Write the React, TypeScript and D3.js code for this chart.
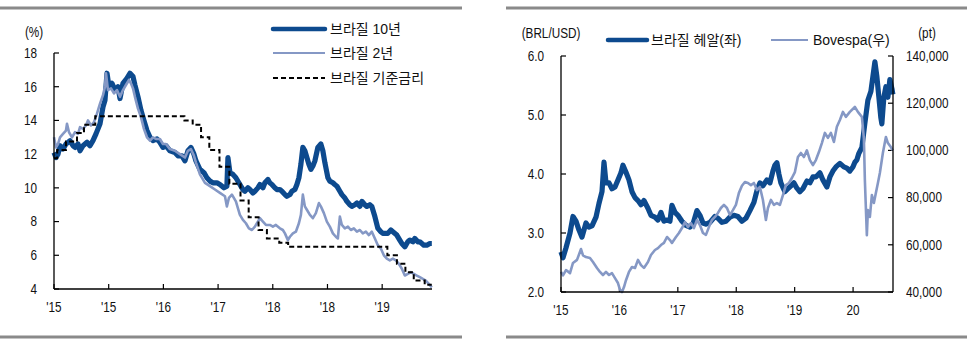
import React from "react";
import * as d3 from "d3";

// ---------- Left chart data (x = months since 2015-01-05) ----------
const leftTickMonths = [0, 9, 18, 27, 36, 45, 54];
const leftTickLabels = ["'15", "'15", "'16", "'17", "'18", "'18", "'19"];
const leftYTicks = [4, 6, 8, 10, 12, 14, 16, 18];

const bond10y: [number, number][] = [
  [0, 12.1], [0.33, 11.8], [0.66, 12.0], [0.99, 12.5], [1.48, 12.3], [1.97, 12.6], [2.63, 12.8], [3.13, 12.5],
  [3.45, 12.4], [3.95, 12.6], [4.28, 12.2], [4.77, 12.5], [5.43, 12.7], [5.92, 12.5], [6.41, 12.8], [6.91, 13.2],
  [7.57, 13.8], [8.06, 14.8], [8.39, 15.2], [8.72, 16.8], [9.05, 16.0], [9.54, 16.2], [10.03, 15.8], [10.53, 16.0],
  [10.86, 15.3], [11.35, 16.2], [12.0, 16.5], [12.5, 16.8], [13.0, 16.6], [13.32, 16.1], [13.82, 15.4], [14.31, 14.6],
  [14.8, 14.0], [15.3, 13.4], [15.8, 13.0], [16.28, 12.8], [16.94, 12.9], [17.43, 12.7], [17.93, 12.4], [18.42, 12.5],
  [19.08, 12.2], [19.9, 12.1], [20.4, 11.9], [21.05, 11.9], [21.55, 11.6], [22.04, 12.2], [22.53, 12.4], [23.03, 12.0],
  [23.36, 11.6], [24.01, 11.1], [24.67, 10.9], [25.16, 10.6], [25.66, 10.4], [26.15, 10.3], [26.81, 10.3], [27.3, 10.2],
  [27.96, 10.0], [28.45, 10.1], [28.62, 11.8], [28.95, 10.9], [29.44, 10.8], [29.93, 10.6], [30.59, 10.2], [31.09, 9.9],
  [31.41, 9.8], [31.91, 10.0], [32.24, 9.9], [32.73, 9.7], [33.06, 9.8], [33.55, 10.0], [33.88, 10.2], [34.38, 10.0],
  [34.7, 10.3], [35.2, 10.5], [35.5, 10.3], [35.86, 10.2], [36.35, 10.0], [36.68, 9.9], [37.17, 9.9], [37.5, 9.8],
  [38.0, 9.6], [38.32, 9.5], [38.82, 9.6], [39.14, 9.8], [39.64, 9.9], [39.97, 10.2], [40.3, 10.6], [40.63, 11.4],
  [40.95, 12.4], [41.28, 12.2], [41.61, 11.8], [41.94, 11.4], [42.27, 11.1], [42.6, 11.3], [42.93, 11.6], [43.42, 12.4],
  [43.91, 12.6], [44.24, 12.2], [44.57, 11.5], [45.07, 10.6], [45.39, 10.4], [45.89, 10.3], [46.2, 10.2], [46.55, 10.1],
  [47.04, 9.8], [47.37, 9.6], [47.86, 9.4], [48.19, 9.2], [48.68, 9.0], [49.0, 8.9], [49.5, 9.0], [49.84, 9.1],
  [50.33, 8.9], [50.66, 9.2], [51.15, 9.0], [51.48, 8.9], [51.97, 9.0], [52.3, 8.9], [52.8, 8.3], [53.29, 7.6],
  [53.78, 7.4], [54.11, 7.3], [54.6, 7.3], [54.93, 7.3], [55.43, 7.5], [55.76, 7.4], [56.41, 7.2], [56.9, 6.9],
  [57.24, 6.7], [57.73, 6.5], [58.22, 6.8], [58.55, 6.9], [59.05, 6.8], [59.38, 7.0], [59.87, 6.8], [60.2, 6.8],
  [60.53, 6.7], [60.86, 6.6], [61.35, 6.6], [61.84, 6.7], [62.17, 6.7],
];

const bond2y: [number, number][] = [
  [0, 13.0], [0.33, 12.4], [0.66, 12.6], [0.99, 13.0], [1.48, 13.2], [1.97, 13.4], [2.14, 13.8], [2.47, 13.3],
  [2.96, 13.0], [3.45, 13.3], [3.95, 13.2], [4.28, 13.6], [4.77, 13.5], [5.26, 13.7], [5.59, 14.0], [6.09, 13.7],
  [6.58, 13.9], [7.07, 14.4], [7.57, 15.0], [8.06, 15.5], [8.39, 16.0], [8.55, 16.8], [8.88, 15.8], [9.38, 15.9],
  [9.87, 15.6], [10.36, 15.8], [10.86, 15.4], [11.35, 15.8], [11.84, 16.1], [12.34, 16.4], [12.66, 16.2], [13.0, 15.9],
  [13.32, 15.4], [13.82, 14.7], [14.31, 14.2], [14.8, 13.5], [15.3, 13.0], [15.8, 12.8], [16.28, 13.0], [16.78, 12.9],
  [17.43, 12.9], [17.93, 12.6], [18.42, 12.6], [19.08, 12.3], [19.9, 12.2], [20.72, 12.0], [21.55, 11.8], [22.04, 12.2],
  [22.53, 12.3], [23.03, 11.9], [23.36, 11.5], [24.01, 10.8], [24.84, 10.3], [25.66, 10.1], [26.48, 9.9], [27.3, 9.7],
  [28.13, 9.5], [28.45, 8.9], [28.78, 9.4], [29.28, 9.6], [29.93, 9.2], [30.59, 8.4], [31.09, 8.1], [31.58, 7.9],
  [32.07, 7.6], [32.57, 7.5], [33.06, 7.7], [33.55, 8.0], [33.88, 8.2], [34.38, 8.0], [34.87, 7.8], [35.53, 7.8],
  [36.02, 7.7], [36.51, 7.8], [37.17, 7.6], [37.66, 7.5], [38.0, 7.3], [38.49, 6.9], [38.82, 7.1], [39.31, 7.3],
  [39.8, 7.4], [40.3, 7.9], [40.63, 8.4], [40.95, 9.6], [41.28, 8.9], [41.61, 8.7], [42.11, 8.4], [42.6, 8.2],
  [43.09, 8.5], [43.59, 9.1], [43.91, 8.9], [44.41, 8.5], [44.9, 8.0], [45.39, 7.7], [45.89, 7.3], [46.38, 7.1],
  [46.71, 7.0], [47.04, 8.3], [47.37, 7.8], [47.86, 7.6], [48.36, 7.7], [48.85, 7.5], [49.34, 7.6], [49.84, 7.4],
  [50.33, 7.5], [50.82, 7.3], [51.32, 7.4], [51.81, 7.2], [52.3, 7.4], [52.8, 7.0], [53.29, 6.6], [53.78, 6.4],
  [54.28, 6.0], [54.77, 5.8], [55.26, 5.7], [55.76, 5.8], [56.25, 5.7], [56.74, 5.5], [57.24, 5.2], [57.73, 4.8],
  [58.22, 4.9], [58.72, 5.0], [59.21, 4.9], [59.7, 4.8], [60.2, 4.7], [60.69, 4.6], [61.18, 4.5], [61.68, 4.3],
  [62.17, 4.1],
];

const selicDates = [
  "2015-01-05", "2015-01-21", "2015-03-04", "2015-04-29", "2015-06-03", "2015-07-29", "2016-10-19", "2016-11-30",
  "2017-01-11", "2017-02-22", "2017-04-12", "2017-05-31", "2017-07-26", "2017-09-06", "2017-10-25", "2017-12-06",
  "2018-02-07", "2018-03-21", "2019-07-31", "2019-09-18", "2019-10-30", "2019-12-11", "2020-02-05", "2020-03-10",
];
const selicRates = [
  11.75, 12.25, 12.75, 13.25, 13.75, 14.25, 14.0, 13.75, 13.0, 12.25, 11.25, 10.25, 9.25, 8.25, 7.5, 7.0, 6.75, 6.5,
  6.0, 5.5, 5.0, 4.5, 4.25, 4.25,
];

// ---------- Right chart data (x = months since 2015-01-01) ----------
const rightTickMonths = [0, 12, 24, 36, 48, 60];
const rightTickLabels = ["'15", "'16", "'17", "'18", "'19", "20"];
const brlTicks = [2, 3, 4, 5, 6];
const bovTicks = [40000, 60000, 80000, 100000, 120000, 140000];

const brlUsd: [number, number][] = [
  [0, 2.68], [0.41, 2.58], [1.03, 2.75], [1.85, 3.0], [2.46, 3.28], [3.08, 3.2], [3.7, 3.05], [4.31, 2.93],
  [5.13, 3.17], [5.75, 3.1], [6.37, 3.12], [7.19, 3.27], [7.8, 3.5], [8.42, 3.7], [8.83, 4.2], [9.24, 3.85],
  [9.86, 3.85], [10.47, 3.75], [11.09, 3.78], [11.7, 3.9], [12.32, 4.02], [12.73, 4.15], [13.35, 4.03], [13.96, 3.9],
  [14.58, 3.7], [15.2, 3.6], [15.81, 3.55], [16.43, 3.48], [17.04, 3.55], [17.86, 3.42], [18.48, 3.3], [19.3, 3.27],
  [19.92, 3.22], [20.53, 3.35], [21.15, 3.2], [21.77, 3.22], [22.38, 3.2], [22.79, 3.47], [23.41, 3.35], [24.02, 3.3],
  [24.85, 3.2], [25.67, 3.13], [26.49, 3.1], [27.1, 3.15], [27.93, 3.38], [28.54, 3.3], [29.16, 3.17], [29.77, 3.15],
  [30.6, 3.18], [31.62, 3.28], [32.24, 3.25], [33.06, 3.18], [33.88, 3.2], [34.7, 3.27], [35.52, 3.3], [36.34, 3.28],
  [37.17, 3.2], [37.99, 3.25], [38.81, 3.38], [39.63, 3.52], [40.25, 3.72], [40.86, 3.85], [41.48, 3.8], [42.3, 3.9],
  [42.92, 3.85], [43.53, 4.05], [43.94, 4.15], [44.35, 4.19], [44.76, 4.0], [45.17, 3.85], [45.99, 3.7], [46.61, 3.75],
  [47.23, 3.8], [47.84, 3.85], [48.46, 3.76], [49.08, 3.7], [49.69, 3.75], [50.51, 3.88], [51.13, 3.85], [51.75, 3.95],
  [52.36, 3.95], [53.18, 4.02], [53.8, 3.9], [54.62, 3.78], [55.24, 3.95], [55.85, 4.05], [56.47, 4.12], [57.29, 4.18],
  [58.11, 4.12], [58.73, 4.1], [59.34, 4.05], [59.96, 4.12], [60.37, 4.2], [60.78, 4.24], [61.19, 4.35], [61.81, 4.45],
  [62.42, 4.86], [63.04, 5.25], [63.66, 5.4], [64.07, 5.65], [64.48, 5.9], [64.89, 5.65], [65.3, 5.3], [65.71, 4.95],
  [65.91, 4.85], [66.32, 5.3], [66.74, 5.48], [67.15, 5.3], [67.56, 5.6], [67.97, 5.45], [68.17, 5.35],
];

const bovespa: [number, number][] = [
  [0, 48500], [0.41, 47000], [1.03, 49300], [1.85, 48000], [2.46, 52300], [3.29, 53600], [4.11, 58200], [4.52, 55500],
  [5.13, 54800], [5.95, 54400], [6.57, 52700], [7.39, 50200], [8.01, 48500], [8.62, 47200], [9.24, 48500], [9.86, 47200],
  [10.47, 48000], [11.09, 45900], [11.7, 43800], [12.11, 41000], [12.53, 40000], [12.94, 42100], [13.35, 45000],
  [13.96, 48500], [14.58, 50600], [15.2, 50200], [15.81, 53600], [16.43, 51400], [17.04, 50200], [17.86, 52700],
  [18.48, 55700], [19.3, 57800], [19.92, 58600], [20.53, 59900], [21.15, 60800], [21.77, 63300], [22.38, 62000],
  [22.79, 60800], [23.61, 63300], [24.23, 65000], [24.85, 67100], [25.46, 69600], [26.08, 67500], [26.69, 69200],
  [27.31, 67100], [27.93, 70500], [28.54, 68400], [29.16, 65000], [29.77, 64200], [30.39, 67500], [31.01, 70500],
  [31.62, 71800], [32.24, 73500], [32.85, 75600], [33.47, 76900], [34.09, 75600], [34.7, 72600], [35.32, 74700],
  [35.93, 76900], [36.55, 82000], [37.17, 85000], [37.78, 86600], [38.4, 86200], [39.01, 85300], [39.63, 86200],
  [40.25, 83200], [40.86, 84500], [41.48, 79000], [42.09, 70500], [42.51, 75600], [43.12, 79000], [43.74, 76900],
  [44.35, 77700], [44.97, 76900], [45.59, 81100], [46.2, 85300], [46.82, 86200], [47.43, 88300], [48.05, 90800],
  [48.67, 97200], [49.28, 98900], [49.9, 97200], [50.51, 100000], [51.13, 95900], [51.75, 93800], [52.36, 95900],
  [52.98, 99300], [53.59, 103100], [54.21, 107400], [54.83, 105300], [55.44, 107400], [56.06, 103600], [56.67, 110000],
  [57.29, 112900], [57.91, 116300], [58.52, 114200], [59.34, 116300], [60.37, 118400], [60.99, 116300], [61.81, 114200],
  [62.22, 105000], [62.42, 87500], [62.83, 64100], [63.04, 74700], [63.45, 71800], [63.86, 81100], [64.27, 77700],
  [64.68, 81900], [65.1, 86200], [65.5, 90400], [66.12, 98900], [66.74, 105700], [67.15, 103100], [67.76, 101400],
  [68.17, 100000],
];

// ---------- styling ----------
const DARK = "#0d4a8e";
const LIGHT = "#8598c5";
const RULE = "#8a8a8a";
const FONT = "'Liberation Sans', Arial, 'Noto Sans CJK KR', sans-serif";

function monthsSince(d: string, y0: number, m0: number, day0: number) {
  const [y, m, dd] = d.split("-").map(Number);
  return (y - y0) * 12 + (m - m0) + (dd - day0) / 30.4;
}

function T(props: { x: number; y: number; anchor?: string; size?: number; sx?: number; children: React.ReactNode }) {
  const { x, y, anchor = "middle", size = 14, sx = 0.84, children } = props;
  return (
    <text
      transform={`translate(${x},${y}) scale(${sx},1)`}
      textAnchor={anchor as any}
      dominantBaseline="central"
      fontSize={size}
      fontFamily={FONT}
      fill="#111"
    >
      {children}
    </text>
  );
}

export default function App() {
  // Left chart scales
  const lx = d3.scaleLinear().domain([0, 62.2]).range([54, 432]);
  const ly = d3.scaleLinear().domain([4, 18]).range([289, 53]);
  const lline = d3.line<[number, number]>().x((d) => lx(d[0])).y((d) => ly(d[1]));
  const selic: [number, number][] = selicDates.map((d, i) => [monthsSince(d, 2015, 1, 5), selicRates[i]]);
  const selicLine = d3
    .line<[number, number]>()
    .x((d) => lx(d[0]))
    .y((d) => ly(d[1]))
    .curve(d3.curveStepAfter);

  // Right chart scales
  const rx = d3.scaleLinear().domain([0, 68.2]).range([561, 893]);
  const ryL = d3.scaleLinear().domain([2, 6]).range([292, 56]);
  const ryR = d3.scaleLinear().domain([40000, 140000]).range([292, 56]);
  const brlLine = d3.line<[number, number]>().x((d) => rx(d[0])).y((d) => ryL(d[1]));
  const bovLine = d3.line<[number, number]>().x((d) => rx(d[0])).y((d) => ryR(d[1]));
  const fmt = d3.format(",");

  const L0 = lx.range()[0], L1 = lx.range()[1];
  const LB = ly.range()[0], LT = ly.range()[1];
  const R0 = rx.range()[0], R1 = rx.range()[1];
  const RB = ryL.range()[0], RT = ryL.range()[1];

  return (
    <svg
      width={967}
      height={343}
      style={{ position: "absolute", left: 0, top: 0, background: "#fff" }}
    >
      {/* ===== Left panel ===== */}
      <line x1={0} x2={462} y1={8} y2={8} stroke={RULE} strokeWidth={3} />
      <line x1={0} x2={462} y1={337} y2={337} stroke={RULE} strokeWidth={3} />

      <T x={34} y={32}>(%)</T>
      {leftYTicks.map((t) => (
        <g key={"ly" + t}>
          <line x1={L0} x2={L0 + 5} y1={ly(t)} y2={ly(t)} stroke="#000" strokeWidth={1.2} />
          <T x={37} y={ly(t)} anchor="end">{t}</T>
        </g>
      ))}
      {leftTickMonths.map((m, i) => (
        <g key={"lx" + i}>
          <line x1={lx(m)} x2={lx(m)} y1={LB} y2={LB - 5} stroke="#000" strokeWidth={1.2} />
          <T x={lx(m)} y={307}>{leftTickLabels[i]}</T>
        </g>
      ))}

      <path d={lline(bond10y) || ""} fill="none" stroke={DARK} strokeWidth={5.2} strokeLinejoin="round" />
      <path d={lline(bond2y) || ""} fill="none" stroke={LIGHT} strokeWidth={2.6} strokeLinejoin="round" />
      <path d={selicLine(selic) || ""} fill="none" stroke="#000" strokeWidth={2} strokeDasharray="5,3" />

      <line x1={L0} x2={L0} y1={LT} y2={LB} stroke="#000" strokeWidth={1.3} />
      <line x1={L0} x2={L1} y1={LB} y2={LB} stroke="#000" strokeWidth={1.3} />

      {/* legend left */}
      <line x1={273} x2={325} y1={29} y2={29} stroke={DARK} strokeWidth={4.5} strokeLinecap="round" />
      <text x={330} y={29} dominantBaseline="central" fontSize={14} fontFamily={FONT} fill="#111">브라질 10년</text>
      <line x1={273} x2={325} y1={53} y2={53} stroke={LIGHT} strokeWidth={2} />
      <text x={330} y={53} dominantBaseline="central" fontSize={14} fontFamily={FONT} fill="#111">브라질 2년</text>
      <line x1={273} x2={325} y1={78} y2={78} stroke="#000" strokeWidth={2} strokeDasharray="5,3" />
      <text x={330} y={78} dominantBaseline="central" fontSize={14} fontFamily={FONT} fill="#111">브라질 기준금리</text>

      {/* ===== Right panel ===== */}
      <line x1={506} x2={967} y1={8} y2={8} stroke={RULE} strokeWidth={3} />
      <line x1={506} x2={967} y1={337} y2={337} stroke={RULE} strokeWidth={3} />

      <T x={551} y={33}>(BRL/USD)</T>
      <T x={927} y={33}>(pt)</T>

      {brlTicks.map((t) => (
        <g key={"rl" + t}>
          <line x1={R0} x2={R0 + 5} y1={ryL(t)} y2={ryL(t)} stroke="#000" strokeWidth={1.2} />
          <T x={544} y={ryL(t)} anchor="end">{t.toFixed(1)}</T>
        </g>
      ))}
      {bovTicks.map((t) => (
        <g key={"rr" + t}>
          <line x1={R1} x2={R1 - 5} y1={ryR(t)} y2={ryR(t)} stroke="#000" strokeWidth={1.2} />
          <T x={906} y={ryR(t)} anchor="start">{fmt(t)}</T>
        </g>
      ))}
      {rightTickMonths.map((m, i) => (
        <g key={"rx" + i}>
          <line x1={rx(m)} x2={rx(m)} y1={RB} y2={RB - 5} stroke="#000" strokeWidth={1.2} />
          <T x={rx(m)} y={310}>{rightTickLabels[i]}</T>
        </g>
      ))}

      <path d={brlLine(brlUsd) || ""} fill="none" stroke={DARK} strokeWidth={5.2} strokeLinejoin="round" />
      <path d={bovLine(bovespa) || ""} fill="none" stroke={LIGHT} strokeWidth={2.6} strokeLinejoin="round" />

      <line x1={R0} x2={R0} y1={RT} y2={RB} stroke="#000" strokeWidth={1.3} />
      <line x1={R1} x2={R1} y1={RT} y2={RB} stroke="#000" strokeWidth={1.3} />
      <line x1={R0} x2={R1} y1={RB} y2={RB} stroke="#000" strokeWidth={1.3} />

      {/* legend right */}
      <line x1={608} x2={647} y1={40} y2={40} stroke={DARK} strokeWidth={4.5} strokeLinecap="round" />
      <text x={651} y={40} dominantBaseline="central" fontSize={14} fontFamily={FONT} fill="#111">브라질 헤알(좌)</text>
      <line x1={771} x2={808} y1={40} y2={40} stroke={LIGHT} strokeWidth={2} />
      <text x={813} y={40} dominantBaseline="central" fontSize={14} fontFamily={FONT} fill="#111">Bovespa(우)</text>
    </svg>
  );
}
